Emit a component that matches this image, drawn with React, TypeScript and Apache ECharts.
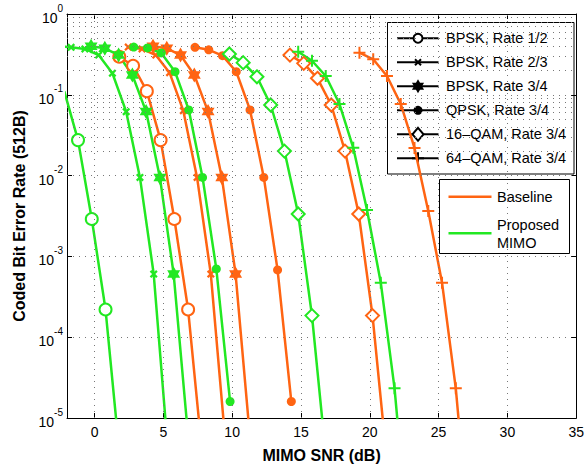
import React, { useEffect, useRef } from "react";
import * as echarts from "echarts";

const FONT = "'Liberation Sans', Arial, Helvetica, sans-serif";
const ORANGE = "#ff6412";
const GREEN = "#22e822";

// Axis ticks
const xTickValues = [0, 5, 10, 15, 20, 25, 30, 35];
const xGridValues = [0, 5, 10, 15, 20, 25, 30];
const yMinorValues: number[] = [];
for (let d = -5; d < 0; d++) for (let m = 2; m <= 9; m++) yMinorValues.push(m * Math.pow(10, d));

// Legend texts
const modulations = [
  "BPSK, Rate 1/2",
  "BPSK, Rate 2/3",
  "BPSK, Rate 3/4",
  "QPSK, Rate 3/4",
  "16\u2013QAM, Rate 3/4",
  "64\u2013QAM, Rate 3/4",
];
const schemes = ["Baseline", "Proposed MIMO"];

// Data: [SNR dB, coded BER]
const bpsk12Base = [[1.8, 0.296], [2.8, 0.229], [3.8, 0.111], [4.8, 0.0275], [5.8, 0.0029], [6.8, 0.00022], [7.8, 0.000004]];
const bpsk12Prop = [[-2.2, 0.111], [-1.2, 0.0275], [-0.2, 0.0029], [0.8, 0.00022], [1.8, 0.0000038]];
const bpsk23Base = [[2.45, 0.39], [3.45, 0.37], [4.45, 0.31], [5.45, 0.188], [6.45, 0.0636], [7.45, 0.0095], [8.45, 0.000605], [9.45, 0.0000066]];
const bpsk23Prop = [[-2.7, 0.4], [-1.7, 0.387], [-0.7, 0.37], [0.3, 0.31], [1.3, 0.185], [2.3, 0.0618], [3.3, 0.0095], [4.3, 0.000605], [5.3, 0.0000047]];
const bpsk34Base = [[4.25, 0.4], [5.25, 0.376], [6.25, 0.31], [7.25, 0.176], [8.25, 0.062], [9.25, 0.0095], [10.25, 0.000605], [11.25, 0.000007]];
const bpsk34Prop = [[-0.25, 0.4], [0.75, 0.376], [1.75, 0.31], [2.75, 0.176], [3.75, 0.062], [4.75, 0.0095], [5.75, 0.000605], [6.75, 0.0000074]];
const qpsk34Base = [[7.3, 0.387], [8.3, 0.36], [9.3, 0.305], [10.3, 0.193], [11.3, 0.065], [12.3, 0.0095], [13.3, 0.00068], [14.3, 0.000016]];
const qpsk34Prop = [[2.85, 0.39], [3.85, 0.38], [4.85, 0.33], [5.85, 0.193], [6.85, 0.065], [7.85, 0.0095], [8.85, 0.0007], [9.85, 0.000016]];
const qam16Base = [[14.2, 0.31], [15.2, 0.245], [16.2, 0.16], [17.2, 0.0748], [18.2, 0.0201], [19.2, 0.00335], [20.2, 0.000185], [21.2, 0.0000035]];
const qam16Prop = [[9.8, 0.32], [10.8, 0.25], [11.8, 0.167], [12.8, 0.0748], [13.8, 0.0201], [14.8, 0.00335], [15.8, 0.000185], [16.8, 0.0000035]];
const qam64Base = [[19.25, 0.332], [20.25, 0.275], [21.25, 0.171], [22.25, 0.077], [23.25, 0.022], [24.25, 0.00365], [25.25, 0.000473], [26.25, 0.0000233], [27.25, 0.0000003]];
const qam64Prop = [[14.8, 0.341], [15.8, 0.264], [16.8, 0.171], [17.8, 0.0769], [18.8, 0.0221], [19.8, 0.00375], [20.8, 0.000473], [21.8, 0.0000233], [22.8, 0.0000003]];

const baseData = [bpsk12Base, bpsk23Base, bpsk34Base, qpsk34Base, qam16Base, qam64Base];
const propData = [bpsk12Prop, bpsk23Prop, bpsk34Prop, qpsk34Prop, qam16Prop, qam64Prop];

const HEX_PATH =
  "path://M5,0 L6.443,2.5 L9.33,2.5 L7.887,5 L9.33,7.5 L6.443,7.5 L5,10 L3.557,7.5 L0.67,7.5 L2.113,5 L0.67,2.5 L3.557,2.5 Z";
const X_PATH = "path://M0,2 L2,0 L5,3 L8,0 L10,2 L7,5 L10,8 L8,10 L5,7 L2,10 L0,8 L3,5 Z";
const PLUS_PATH = "path://M5,0 L7,0 L7,5 L12,5 L12,7 L7,7 L7,12 L5,12 L5,7 L0,7 L0,5 L5,5 Z";

function markerFor(i: number, color: string) {
  switch (i) {
    case 0:
      return { symbol: "circle", symbolSize: 12, itemStyle: { color: "#fff", borderColor: color, borderWidth: 2 } };
    case 1:
      return { symbol: X_PATH, symbolSize: 8, itemStyle: { color } };
    case 2:
      return { symbol: HEX_PATH, symbolSize: 15, itemStyle: { color } };
    case 3:
      return { symbol: "circle", symbolSize: 9, itemStyle: { color } };
    case 4:
      return { symbol: "diamond", symbolSize: 13, itemStyle: { color: "#fff", borderColor: color, borderWidth: 2 } };
    default:
      return { symbol: PLUS_PATH, symbolSize: 12, itemStyle: { color } };
  }
}

function hexPoints(cx: number, cy: number, R: number) {
  const pts: number[][] = [];
  for (let k = 0; k < 12; k++) {
    const a = ((-90 + 30 * k) * Math.PI) / 180;
    const r = k % 2 === 0 ? R : R / Math.sqrt(3);
    pts.push([cx + r * Math.cos(a), cy + r * Math.sin(a)]);
  }
  return pts;
}

function legendMarker(i: number, cx: number, cy: number): any[] {
  const s = { stroke: "#000", lineWidth: 2 };
  switch (i) {
    case 0:
      return [{ type: "circle", shape: { cx, cy, r: 4.5 }, style: { fill: "#fff", ...s } }];
    case 1:
      return [
        { type: "line", shape: { x1: cx - 3, y1: cy - 3, x2: cx + 3, y2: cy + 3 }, style: s },
        { type: "line", shape: { x1: cx - 3, y1: cy + 3, x2: cx + 3, y2: cy - 3 }, style: s },
      ];
    case 2:
      return [{ type: "polygon", shape: { points: hexPoints(cx, cy, 7) }, style: { fill: "#000" } }];
    case 3:
      return [{ type: "circle", shape: { cx, cy, r: 4.5 }, style: { fill: "#000" } }];
    case 4:
      return [
        {
          type: "polygon",
          shape: { points: [[cx, cy - 6.5], [cx + 5.5, cy], [cx, cy + 6.5], [cx - 5.5, cy]] },
          style: { fill: "#fff", ...s },
        },
      ];
    default:
      return [
        { type: "line", shape: { x1: cx - 6, y1: cy, x2: cx + 6, y2: cy }, style: s },
        { type: "line", shape: { x1: cx, y1: cy - 6, x2: cx, y2: cy + 6 }, style: s },
      ];
  }
}

export default function App() {
  const ref = useRef<HTMLDivElement>(null);
  useEffect(() => {
    if (!ref.current) return;
    const chart = echarts.init(ref.current, undefined, { renderer: "svg" });

    const gridDot = { color: "#777", width: 1, type: [1, 5] as any };

    const series: any[] = [];
    series.push({
      name: "grid",
      type: "line",
      data: [],
      silent: true,
      z: 1,
      markLine: {
        silent: true,
        symbol: "none",
        label: { show: false },
        lineStyle: gridDot,
        animation: false,
        data: [
          ...xGridValues.map((v) => ({ xAxis: v })),
          ...yMinorValues.map((v) => ({ yAxis: v })),
        ],
      },
    });

    for (let i = 0; i < 6; i++) {
      const groups: [any[], string, string][] = [
        [baseData[i], ORANGE, schemes[0]],
        [propData[i], GREEN, schemes[1]],
      ];
      for (const [data, color, scheme] of groups) {
        series.push({
          name: `${modulations[i]} \u2013 ${scheme}`,
          type: "line",
          data,
          clip: true,
          silent: true,
          z: 3,
          showSymbol: true,
          symbolKeepAspect: true,
          lineStyle: { color, width: 2.5 },
          emphasis: { disabled: true },
          ...markerFor(i, color),
        });
      }
    }

    // Legends (graphic)
    const lg1: any[] = [
      { type: "rect", shape: { x: 387.5, y: 22.5, width: 186.5, height: 151.5 }, style: { fill: "#fff", stroke: "#000", lineWidth: 1 } },
    ];
    modulations.forEach((label, i) => {
      const y = 38.3 + 24 * i;
      lg1.push({ type: "line", shape: { x1: 397, y1: y, x2: 438.5, y2: y }, style: { stroke: "#000", lineWidth: 2 } });
      lg1.push(...legendMarker(i, 418, y));
      lg1.push({
        type: "text",
        x: 446,
        y,
        style: { text: label, fontFamily: FONT, fontSize: 14.5, fill: "#000", verticalAlign: "middle", align: "left" },
      });
    });
    const lg2: any[] = [
      { type: "rect", shape: { x: 439.5, y: 179.5, width: 130, height: 74 }, style: { fill: "#fff", stroke: "#000", lineWidth: 1 } },
      { type: "line", shape: { x1: 448.5, y1: 196.7, x2: 491.5, y2: 196.7 }, style: { stroke: ORANGE, lineWidth: 2.5 } },
      { type: "text", x: 497, y: 196.7, style: { text: schemes[0], fontFamily: FONT, fontSize: 14.5, fill: "#000", verticalAlign: "middle" } },
      { type: "line", shape: { x1: 448.5, y1: 233.3, x2: 491.5, y2: 233.3 }, style: { stroke: GREEN, lineWidth: 2.5 } },
      { type: "text", x: 497, y: 233.8, style: { text: "Proposed\nMIMO", fontFamily: FONT, fontSize: 14.5, lineHeight: 17.7, fill: "#000", verticalAlign: "middle" } },
    ];

    const option: any = {
      animation: false,
      backgroundColor: "#fff",
      grid: { left: 67, top: 14, right: 7, bottom: 50 },
      xAxis: [
        {
          type: "value",
          min: -2,
          max: 35,
          position: "bottom",
          name: "MIMO SNR (dB)",
          nameLocation: "middle",
          nameGap: 29,
          nameTextStyle: { fontFamily: FONT, fontWeight: "bold", fontSize: 16, color: "#000" },
          axisLine: { show: true, onZero: false, lineStyle: { color: "#000", width: 1 } },
          axisTick: { show: true, inside: true, length: 5, customValues: xTickValues, lineStyle: { color: "#000" } },
          axisLabel: { show: true, customValues: xTickValues, margin: 7, fontFamily: FONT, fontSize: 14, color: "#000" },
          splitLine: { show: false },
        },
        {
          type: "value",
          min: -2,
          max: 35,
          position: "top",
          axisLine: { show: true, onZero: false, lineStyle: { color: "#000", width: 1 } },
          axisTick: { show: true, inside: true, length: 5, customValues: xTickValues, lineStyle: { color: "#000" } },
          axisLabel: { show: false },
          splitLine: { show: false },
        },
      ],
      yAxis: [
        {
          type: "log",
          logBase: 10,
          min: 1e-5,
          max: 1,
          position: "left",
          name: "Coded Bit Error Rate (512B)",
          nameLocation: "middle",
          nameGap: 23,
          nameTextStyle: { fontFamily: FONT, fontWeight: "bold", fontSize: 16, color: "#000" },
          axisLine: { show: true, onZero: false, lineStyle: { color: "#000", width: 1 } },
          axisTick: { show: true, inside: true, length: 5, lineStyle: { color: "#000" } },
          axisLabel: {
            show: true,
            margin: 4,
            formatter: (v: number) => `{b|10}{e|${Math.round(Math.log10(v))}}`,
            rich: {
              b: { fontFamily: FONT, fontSize: 14, color: "#000", lineHeight: 22, verticalAlign: "bottom" },
              e: { fontFamily: FONT, fontSize: 10, color: "#000", verticalAlign: "top" },
            },
          },
          splitLine: { show: true, lineStyle: gridDot },
        },
        {
          type: "log",
          logBase: 10,
          min: 1e-5,
          max: 1,
          position: "right",
          axisLine: { show: true, onZero: false, lineStyle: { color: "#000", width: 1 } },
          axisTick: { show: true, inside: true, length: 5, lineStyle: { color: "#000" } },
          axisLabel: { show: false },
          splitLine: { show: false },
        },
      ],
      series,
      graphic: [
        { type: "group", z: 100, children: lg1 },
        { type: "group", z: 100, children: lg2 },
      ],
    };
    chart.setOption(option);
    return () => chart.dispose();
  }, []);
  return <div ref={ref} style={{ width: 587, height: 468, position: "absolute", left: 0, top: 0 }} />;
}
